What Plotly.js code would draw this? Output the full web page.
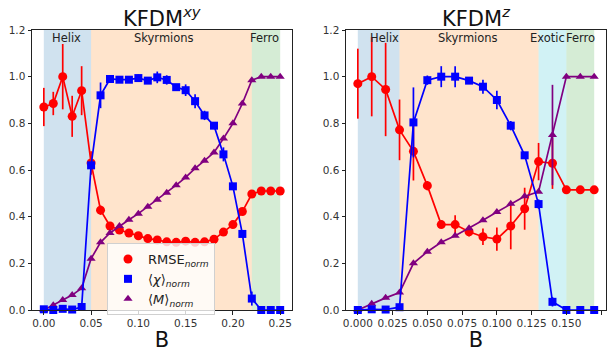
<!DOCTYPE html>
<html>
<head>
<meta charset="utf-8">
<script src="https://cdn.plot.ly/plotly-3.0.1.min.js"></script>
<style>html,body{margin:0;padding:0;background:#fff;}#chart{width:614px;height:352px;}</style>
</head>
<body>
<div id="chart"></div>
<script>
// ---- Left panel: KFDM^xy ----
const B_xy = [0.00,0.01,0.02,0.03,0.04,0.05,0.06,0.07,0.08,0.09,0.10,0.11,0.12,0.13,0.14,0.15,0.16,0.17,0.18,0.19,0.20,0.21,0.22,0.23,0.24,0.25];
const rmse_xy = [0.87,0.885,1.0,0.83,0.94,0.63,0.428,0.36,0.343,0.33,0.318,0.306,0.30,0.292,0.29,0.295,0.29,0.292,0.303,0.334,0.366,0.422,0.497,0.51,0.51,0.51];
const rmse_xy_err = [0.082,0.05,0.14,0.088,0.105,0.05,0.02,0.01,0.01,0.01,0.008,0.008,0.008,0.008,0.008,0.008,0.008,0.008,0.008,0.01,0.01,0.01,0.01,0.005,0.005,0.005];
const chi_xy = [0.003,0.0,0.005,0.002,0.013,0.62,0.92,0.99,0.987,0.987,0.994,0.983,0.997,0.986,0.955,0.942,0.895,0.834,0.79,0.667,0.53,0.326,0.049,0.0,0.0,0.0];
const chi_xy_err = [0.003,0.003,0.003,0.003,0.005,0.01,0.055,0.01,0.008,0.008,0.015,0.008,0.025,0.02,0.01,0.025,0.03,0.02,0.01,0.03,0.01,0.01,0.03,0.002,0.002,0.002];
const m_xy = [0.0,0.02,0.043,0.064,0.093,0.22,0.29,0.33,0.36,0.387,0.413,0.443,0.472,0.503,0.535,0.568,0.607,0.64,0.675,0.735,0.80,0.885,0.985,1.0,1.0,1.0];
const regions_xy = [[0.0,0.05],[0.05,0.22],[0.22,0.25]];
const regionNames_xy = ["Helix","Skyrmions","Ferro"];
const regionLabelX_xy = [0.024,0.127,0.233];
const regionColors_xy = ["rgba(31,119,180,0.21)","rgba(255,127,14,0.21)","rgba(44,160,44,0.2)"];

// ---- Right panel: KFDM^z ----
const B_z = [0.00,0.01,0.02,0.03,0.04,0.05,0.06,0.07,0.08,0.09,0.10,0.11,0.12,0.13,0.14,0.15,0.16,0.17];
const rmse_z = [0.97,1.0,0.945,0.772,0.68,0.533,0.366,0.366,0.335,0.314,0.304,0.36,0.434,0.636,0.629,0.515,0.515,0.515];
const rmse_z_err = [0.15,0.17,0.2,0.13,0.125,0.02,0.01,0.04,0.02,0.035,0.05,0.1,0.09,0.08,0.11,0.005,0.005,0.005];
const chi_z = [0.0,0.003,0.002,0.012,0.804,0.985,1.0,1.0,0.983,0.957,0.90,0.79,0.663,0.454,0.035,0.0,0.0,0.0];
const chi_z_err = [0.003,0.003,0.003,0.005,0.15,0.02,0.045,0.045,0.01,0.03,0.04,0.02,0.01,0.02,0.02,0.002,0.002,0.002];
const m_z = [0.0,0.027,0.052,0.075,0.2,0.25,0.29,0.318,0.35,0.385,0.42,0.455,0.487,0.507,0.75,1.0,1.0,1.0];
const m_z_err = [0,0,0,0,0,0,0,0,0,0,0,0,0,0,0.215,0,0,0];
const regions_z = [[0.0,0.03],[0.03,0.13],[0.13,0.15],[0.15,0.17]];
const regionNames_z = ["Helix","Skyrmions","Exotic","Ferro"];
const regionLabelX_z = [0.0194,0.079,0.1366,0.160];
const regionColors_z = ["rgba(31,119,180,0.21)","rgba(255,127,14,0.21)","rgba(23,190,207,0.2)","rgba(44,160,44,0.2)"];

const legendNames = ["RMSE<sub><i>norm</i></sub>","⟨<i>χ</i>⟩<sub><i>norm</i></sub>","⟨<i>M</i>⟩<sub><i>norm</i></sub>"];

const RED = "#ff0000", BLUE = "#0000ff", PURPLE = "#800080";

function series(xa, ya, x, y, err, color, symbol, size) {
  const t = {
    x: x, y: y, xaxis: xa, yaxis: ya, type: "scatter", mode: "lines+markers",
    line: {color: color, width: 1.7},
    marker: {color: color, symbol: symbol, size: size},
    showlegend: false, cliponaxis: false
  };
  if (err) t.error_y = {type: "data", array: err, visible: true, color: color, thickness: 1.7, width: 0};
  return t;
}

const traces = [
  series("x","y",B_xy,rmse_xy,rmse_xy_err,RED,"circle",9),
  series("x","y",B_xy,m_xy,null,PURPLE,"triangle-up",8),
  series("x","y",B_xy,chi_xy,chi_xy_err,BLUE,"square",8),
  series("x2","y2",B_z,rmse_z,rmse_z_err,RED,"circle",9),
  series("x2","y2",B_z,m_z,m_z_err,PURPLE,"triangle-up",8),
  series("x2","y2",B_z,chi_z,chi_z_err,BLUE,"square",8),
];
// legend-only entries (markers only, like the original)
[[RED,"circle",9],[BLUE,"square",8],[PURPLE,"triangle-up",8]].forEach((s,i)=>{
  traces.push({x:[null], y:[null], xaxis:"x", yaxis:"y", type:"scatter", mode:"markers",
    marker:{color:s[0], symbol:s[1], size:s[2]}, name: legendNames[i], showlegend:true});
});

const shapes = [], annotations = [];
function addRegions(xref, yref, regions, colors, names, labelX) {
  regions.forEach((r,i)=>{
    shapes.push({type:"rect", xref:xref, yref:yref, x0:r[0], x1:r[1], y0:0, y1:1.2,
      fillcolor:colors[i], line:{width:0}, layer:"below"});
    annotations.push({xref:xref, yref:yref, x:labelX[i], y:1.165, text:names[i], showarrow:false,
      font:{family:"DejaVu Sans", size:11.5, color:"#222"}, xanchor:"center", yanchor:"middle"});
  });
}
addRegions("x","y",regions_xy,regionColors_xy,regionNames_xy,regionLabelX_xy);
addRegions("x2","y2",regions_z,regionColors_z,regionNames_z,regionLabelX_z);

annotations.push({xref:"paper", yref:"paper", x:(32+292)/2/614, y:1-17/352, text:"KFDM<sup><i>xy</i></sup>",
  showarrow:false, font:{family:"DejaVu Sans", size:21, color:"#111"}, xanchor:"center", yanchor:"middle"});
annotations.push({xref:"paper", yref:"paper", x:(346+606)/2/614, y:1-17/352, text:"KFDM<sup><i>z</i></sup>",
  showarrow:false, font:{family:"DejaVu Sans", size:21, color:"#111"}, xanchor:"center", yanchor:"middle"});

const tickFont = {family:"DejaVu Sans", size:10.5, color:"#333"};
const axBase = {showgrid:false, zeroline:false, showline:true, mirror:true, linecolor:"#222", linewidth:1,
  ticks:"outside", ticklen:3.5, tickcolor:"#222", tickfont:tickFont};

const layout = {
  width:614, height:352, margin:{l:0,r:0,t:0,b:0},
  paper_bgcolor:"#fff", plot_bgcolor:"#fff",
  xaxis: Object.assign({}, axBase, {domain:[32/614,292/614], range:[-0.0125,0.2625], tickmode:"array",
    tickvals:[0,0.05,0.1,0.15,0.2,0.25], ticktext:["0.00","0.05","0.10","0.15","0.20","0.25"],
    title:{text:"B", font:{family:"DejaVu Sans", size:21, color:"#111"}, standoff:4}, anchor:"y"}),
  yaxis: Object.assign({}, axBase, {domain:[1-310/352,1-30/352], range:[0,1.2], tickmode:"array",
    tickvals:[0,0.2,0.4,0.6,0.8,1.0,1.2], ticktext:["0.0","0.2","0.4","0.6","0.8","1.0","1.2"], anchor:"x"}),
  xaxis2: Object.assign({}, axBase, {domain:[346/614,606/614], range:[-0.0085,0.1785], tickmode:"array",
    tickvals:[0,0.025,0.05,0.075,0.1,0.125,0.15,0.175],
    ticktext:["0.000","0.025","0.050","0.075","0.100","0.125","0.150","0.175"],
    title:{text:"B", font:{family:"DejaVu Sans", size:21, color:"#111"}, standoff:4}, anchor:"y2"}),
  yaxis2: Object.assign({}, axBase, {domain:[1-310/352,1-30/352], range:[0,1.2], tickmode:"array",
    tickvals:[0,0.2,0.4,0.6,0.8,1.0,1.2], ticktext:["0.0","0.2","0.4","0.6","0.8","1.0","1.2"], anchor:"x2"}),
  shapes: shapes, annotations: annotations,
  legend: {x:107/614, y:1-243/352, xanchor:"left", yanchor:"top", bgcolor:"rgba(255,255,255,0.8)",
    bordercolor:"#d0d0d0", borderwidth:1, font:{family:"DejaVu Sans", size:13, color:"#222"},
    tracegroupgap:0, itemwidth:30},
  showlegend: true
};

Plotly.newPlot("chart", traces, layout, {displayModeBar:false, staticPlot:true});
</script>
</body>
</html>
